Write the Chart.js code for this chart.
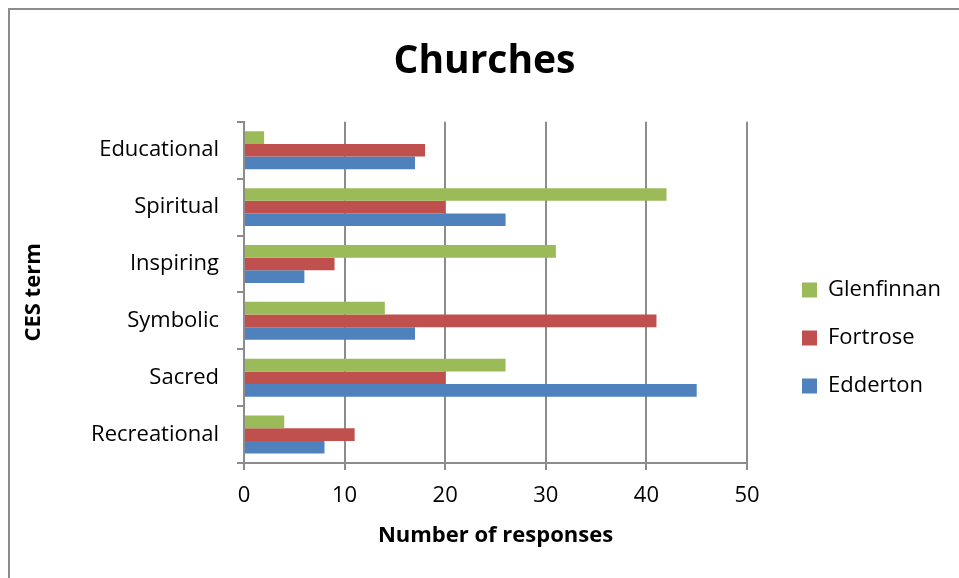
<!DOCTYPE html>
<html>
<head>
<meta charset="utf-8">
<script src="https://cdn.jsdelivr.net/npm/chart.js@4/dist/chart.umd.min.js"></script>
<style>
  html, body { margin: 0; padding: 0; background: #fff; }
  #frame {
    position: absolute; left: 8px; top: 8px;
    width: 951px; height: 570px;
    border-left: 2px solid #8c8c8c; border-top: 2px solid #8c8c8c;
  }
  #wrap { position: absolute; left: 0; top: 0; width: 949px; height: 568px; }
</style>
</head>
<body>
<div id="frame"><div id="wrap"><canvas id="chart"></canvas></div></div>
<script>
// categories, top to bottom as in the picture
const terms = ['Educational', 'Spiritual', 'Inspiring', 'Symbolic', 'Sacred', 'Recreational'];

// responses per site
const glenfinnan = [2, 42, 31, 14, 26, 4];
const fortrose   = [18, 20, 9, 41, 20, 11];
const edderton   = [17, 26, 6, 17, 45, 8];

const xTicks = [0, 10, 20, 30, 40, 50];

const FONT = '"Open Sans", Lato, sans-serif';
const AXIS_GREY = '#8c8c8c';

// legend sits in a fixed-width column to the right, a bit lower than the plot centre
const LEGEND_W = 212;
const LEGEND_GAP = 55;   // plot right edge -> legend swatch
const LEGEND_DROP = 44;

const legendPlacer = {
    id: 'legendPlacer',
    afterInit(chart) {
        const lg = chart.legend;
        const fit = lg.fit.bind(lg);
        lg.fit = function () { fit(); this.width = LEGEND_W; };
    },
    afterLayout(chart) {
        const lg = chart.legend;
        const pad = lg.options.labels.padding;
        const dx = chart.chartArea.right + LEGEND_GAP - (lg.left + pad);
        lg.left += dx; lg.right += dx;
        lg.top += LEGEND_DROP; lg.bottom += LEGEND_DROP;
    }
};

const ctx = document.getElementById('chart').getContext('2d');

new Chart(ctx, {
    type: 'bar',
    data: {
        labels: terms,
        datasets: [
            { label: 'Glenfinnan', data: glenfinnan, backgroundColor: '#9BBB59' },
            { label: 'Fortrose',   data: fortrose,   backgroundColor: '#C0504D' },
            { label: 'Edderton',   data: edderton,   backgroundColor: '#4F81BD' }
        ]
    },
    plugins: [legendPlacer],
    options: {
        indexAxis: 'y',
        responsive: true,
        maintainAspectRatio: false,
        animation: false,
        datasets: {
            bar: { categoryPercentage: 0.667, barPercentage: 1.0 }
        },
        layout: { padding: 0 },
        plugins: {
            title: {
                display: true,
                text: 'Churches',
                color: '#000',
                font: { family: FONT, size: 39, weight: 'bold' },
                padding: { top: 28, bottom: 37 }
            },
            legend: {
                position: 'right',
                align: 'center',
                labels: {
                    color: '#000',
                    boxWidth: 15,
                    boxHeight: 15,
                    padding: 26,
                    font: { family: FONT, size: 22 }
                }
            },
            tooltip: { enabled: false }
        },
        scales: {
            x: {
                min: 0,
                max: 50,
                afterBuildTicks: (scale) => { scale.ticks = xTicks.map(v => ({ value: v })); },
                afterFit: (scale) => { scale.height = 115; },
                grid: {
                    color: AXIS_GREY,
                    lineWidth: 2,
                    tickLength: 7
                },
                border: { color: AXIS_GREY, width: 2 },
                ticks: {
                    color: '#000',
                    padding: 13,
                    font: { family: FONT, size: 22 }
                },
                title: {
                    display: true,
                    text: 'Number of responses',
                    color: '#000',
                    font: { family: FONT, size: 22, weight: 'bold' },
                    padding: { top: 29, bottom: 29 }
                }
            },
            y: {
                afterFit: (scale) => { scale.width = 234; },
                grid: {
                    color: AXIS_GREY,
                    lineWidth: 2,
                    drawOnChartArea: false,
                    tickLength: 7,
                    offset: true
                },
                border: { color: AXIS_GREY, width: 2 },
                ticks: {
                    color: '#000',
                    padding: 18,
                    font: { family: FONT, size: 22 }
                },
                title: {
                    display: true,
                    text: 'CES term',
                    color: '#000',
                    font: { family: FONT, size: 22, weight: 'bold' },
                    padding: { top: 11, bottom: 11 }
                }
            }
        }
    }
});
</script>
</body>
</html>
